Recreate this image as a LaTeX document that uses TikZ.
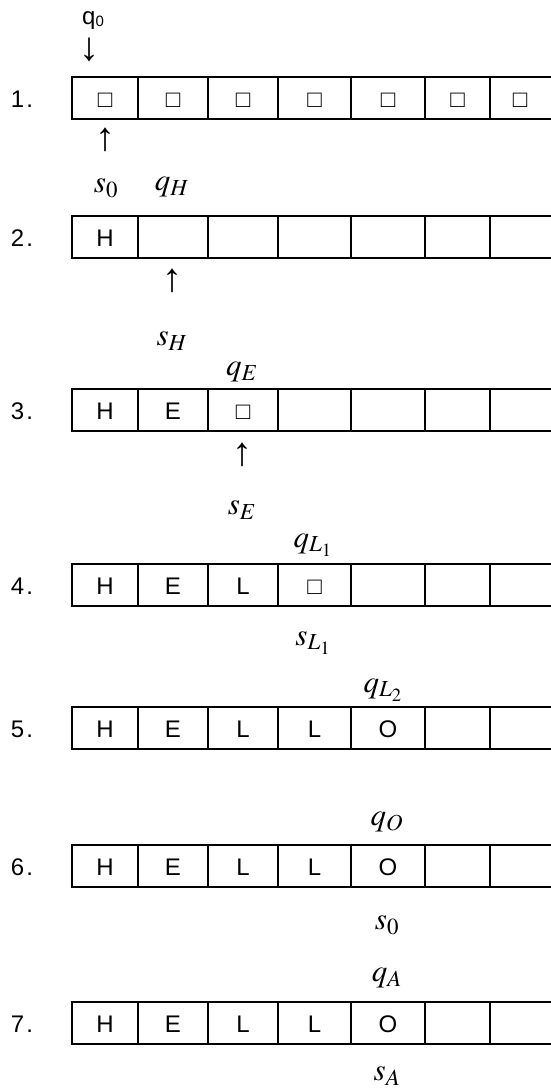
\documentclass[tikz,border=0pt]{standalone}
\usepackage{mathptmx}
\usepackage[no-math]{fontspec}
\setmainfont{Liberation Sans}
\newfontfamily\arrowfont{Liberation Serif}
\usetikzlibrary{positioning}

\begin{document}
\begin{tikzpicture}[
    x=1pt, y=-1pt,
    tape/.style={line width=1.7pt},
    cell/.style={anchor=base, inner sep=0pt, font=\fontsize{24}{28}\selectfont},
    rowno/.style={anchor=base, inner sep=0pt, font=\fontsize{24}{28}\selectfont},
    state/.style={inner sep=0pt, font=\fontsize{31}{36}\selectfont},
    pointer/.style={inner sep=0pt, font=\arrowfont\fontsize{40}{44}\selectfont}
]
\useasboundingbox (0,0) rectangle (551,1090);

% tapes: row / top edge / symbols
\foreach \r/\t/\cells in {1/77/{□,□,□,□,□,□,□}, 2/216/{H}, 3/389/{H,E,□}, 4/564/{H,E,L,□},
                          5/707/{H,E,L,L,O}, 6/845/{H,E,L,L,O}, 7/1002/{H,E,L,L,O}} {
  \draw[tape] (560,\t) -- (72,\t) -- (72,\t+42) -- (560,\t+42);
  \foreach \x in {138,208,278,351,425,490}
    \draw[tape] (\x,\t) -- (\x,\t+42);
  \node[rowno] (row\r) at (22,\t+30) {\r\hspace{2pt}.};
  \foreach \c [count=\i] in \cells {
    \pgfmathsetmacro{\cx}{{105,173,243,314.5,388,457.5,520}[\i-1]}
    \node[cell] (c\r-\i) at (\cx,\t+30) {\c};
  }
}

% start state and head
\node[inner sep=0pt, font=\fontsize{24}{28}\selectfont] (qstart) at (93,21)
  {q\raisebox{-2pt}{\fontsize{15}{15}\selectfont 0}};
\node[pointer] (down1) at (89,50) {↓};
\node[pointer] (up1) at (105,140) {↑};

% states above, symbols below
\node[state] (s1) at (106,188) {$s_0$};
\node[state] (q2) at (172,187) {$q_H$};
\node[pointer] (up2) at (172,281) {↑};
\node[state] (s2) at (172,341) {$s_H$};
\node[state] (q3) at (242,372) {$q_E$};
\node[pointer] (up3) at (242,455) {↑};
\node[state] (s3) at (242,510) {$s_E$};
\node[state] (q4) at (313,545) {$q_{L_1}$};
\node[state] (s4) at (313,643) {$s_{L_1}$};
\node[state] (q5) at (383,690) {$q_{L_2}$};
\node[state] (q6) at (387,822) {$q_O$};
\node[state] (s6) at (387,925) {$s_0$};
\node[state] (q7) at (387,978) {$q_A$};
\node[state] (s7) at (387,1076) {$s_A$};
\end{tikzpicture}
\end{document}
